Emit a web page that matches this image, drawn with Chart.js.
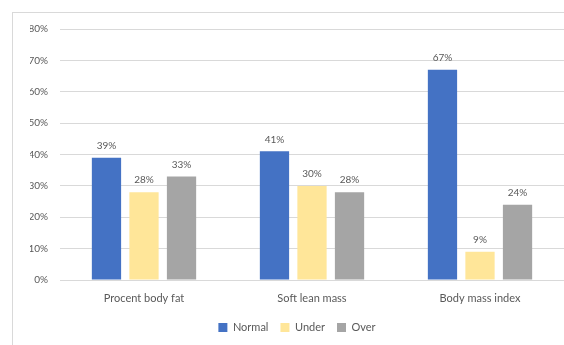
<!DOCTYPE html>
<html>
<head>
<meta charset="utf-8">
<script src="https://cdn.jsdelivr.net/npm/chart.js@4/dist/chart.umd.min.js"></script>
<style>
  html, body { margin: 0; padding: 0; background: #fff; }
  #wrap { position: relative; width: 564px; height: 345px; overflow: hidden; filter: blur(0.45px); }
  #frame { position: absolute; left: 12px; top: 12px; width: 600px; height: 400px;
           border-top: 1px solid #d9d9d9; border-left: 1px solid #d9d9d9; pointer-events: none; }
  canvas { position: absolute; left: 0; top: 0; }
</style>
</head>
<body>
<div id="wrap">
  <canvas id="c" width="564" height="345"></canvas>
  <div id="frame"></div>
</div>
<script>
const categories = ['Procent body fat', 'Soft lean mass', 'Body mass index'];
const seriesNames = ['Normal', 'Under', 'Over'];
const normal = [39, 41, 67];
const under = [28, 30, 9];
const over = [33, 28, 24];
const seriesColors = ['#4472C4', '#FFE699', '#A5A5A5'];
const yTicks = [0, 10, 20, 30, 40, 50, 60, 70, 80];

const FONT = 'Lato, "Open Sans", sans-serif';
const TEXT = '#595959';

// value labels drawn just above each bar
const barLabels = {
  id: 'barLabels',
  afterDatasetsDraw(chart) {
    const ctx = chart.ctx;
    ctx.save();
    ctx.font = '10px ' + FONT;
    ctx.fillStyle = TEXT;
    ctx.textAlign = 'center';
    ctx.textBaseline = 'bottom';
    chart.data.datasets.forEach((ds, i) => {
      chart.getDatasetMeta(i).data.forEach((bar, j) => {
        ctx.fillText(ds.data[j] + '%', bar.x, bar.y - 7);
      });
    });
    ctx.restore();
  }
};

new Chart(document.getElementById('c'), {
  type: 'bar',
  data: {
    labels: categories,
    datasets: [normal, under, over].map((d, i) => ({
      label: seriesNames[i],
      data: d,
      backgroundColor: seriesColors[i],
      borderWidth: 0,
      categoryPercentage: 0.67,
      barPercentage: 0.78
    }))
  },
  options: {
    responsive: false,
    animation: false,
    events: [],
    layout: { padding: { left: 30, right: 0, top: 29, bottom: 2 } },
    scales: {
      x: {
        grid: { display: false, drawTicks: false },
        border: { color: '#d9d9d9', width: 1 },
        ticks: { color: TEXT, font: { family: FONT, size: 11 }, padding: 12 },
        afterFit(axis) { axis.height = 30; }
      },
      y: {
        min: 0,
        max: 80,
        afterBuildTicks(axis) { axis.ticks = yTicks.map(v => ({ value: v })); },
        grid: { color: '#d9d9d9', drawTicks: false },
        border: { display: false },
        ticks: {
          color: TEXT,
          font: { family: FONT, size: 10 },
          padding: 12,
          callback: v => v + '%'
        },
        afterFit(axis) { axis.width = 30; }
      }
    },
    plugins: {
      legend: {
        position: 'bottom',
        labels: {
          color: TEXT,
          font: { family: FONT, size: 11 },
          boxWidth: 9,
          boxHeight: 9,
          padding: 12
        }
      },
      tooltip: { enabled: false }
    }
  },
  plugins: [barLabels]
});
</script>
</body>
</html>
